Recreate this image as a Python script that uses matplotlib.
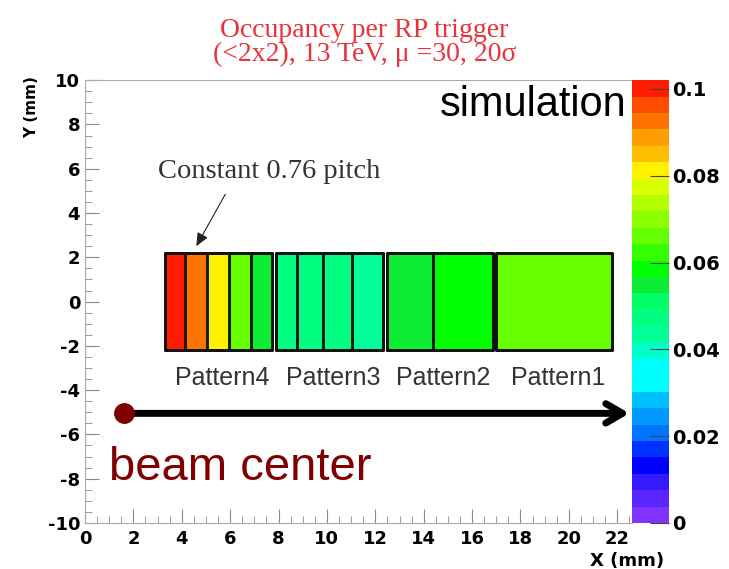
import numpy as np
import matplotlib.pyplot as plt
from matplotlib.colors import ListedColormap, Normalize
from matplotlib.ticker import MultipleLocator

plt.rcParams['axes.unicode_minus'] = False

# strip edges (mm) and occupancy per strip
p4_edges = [3.3, 4.15, 5.05, 5.97, 6.85, 7.73]
p4_vals = [0.099, 0.094, 0.080, 0.066, 0.055]
p3_edges = [7.9, 8.78, 9.85, 11.03, 12.3]
p3_vals = [0.047, 0.049, 0.047, 0.043]
p2_edges = [12.48, 14.4, 16.86]
p2_vals = [0.055, 0.058]
p1_edges = [17.0, 21.8]
p1_vals = [0.067]
names = ["Pattern4", "Pattern3", "Pattern2", "Pattern1"]
y_edges = [-2.2, 2.2]
beam = (1.6, -5.05)

# ROOT-like palette, bottom to top
pal = [(0.5, 0.2, 1), (0.35, 0.15, 1), (0.2, 0.1, 1), (0, 0, 1), (0, 0.2, 1),
       (0, 0.45, 1), (0, 0.6, 1), (0, 0.75, 1), (0, 1, 1), (0, 1, 1),
       (0, 1, 0.8), (0, 1, 0.6), (0, 1, 0.5), (0, 1, 0.4), (0.05, 0.93, 0.2),
       (0, 1, 0), (0.2, 1, 0), (0.4, 1, 0), (0.55, 1, 0), (0.7, 1, 0),
       (0.85, 1, 0), (1, 0.95, 0), (1, 0.75, 0), (1, 0.62, 0), (1, 0.45, 0),
       (1, 0.3, 0), (1, 0.1, 0)]
cmap = ListedColormap(pal)
norm = Normalize(0, 0.102)

fig = plt.figure(figsize=(7.29, 5.69), dpi=100)
ax = fig.add_axes([0.1166, 0.081, 0.75, 0.778])
cax = fig.add_axes([0.867, 0.081, 0.051, 0.778])

pats = [(p4_edges, p4_vals), (p3_edges, p3_vals), (p2_edges, p2_vals), (p1_edges, p1_vals)]
for (ed, vals), nm in zip(pats, names):
    ax.pcolormesh(ed, y_edges, np.array([vals]), cmap=cmap, norm=norm,
                  edgecolor="#1a1a1a", linewidth=1.0)
    ax.add_patch(plt.Rectangle((ed[0], y_edges[0]), ed[-1] - ed[0], y_edges[1] - y_edges[0],
                               fill=False, edgecolor="#111111", linewidth=1.8))
    ax.text((ed[0] + ed[-1]) / 2 + 0.15, -3.45, nm, ha="center", va="center",
            fontsize=18, color="#333333", family="Liberation Sans")

ax.set_xlim(0, 22.6)
ax.set_ylim(-10, 10)
ax.xaxis.set_major_locator(MultipleLocator(2))
ax.xaxis.set_minor_locator(MultipleLocator(0.5))
ax.yaxis.set_major_locator(MultipleLocator(2))
ax.yaxis.set_minor_locator(MultipleLocator(0.5))
ax.tick_params(which="both", direction="in", color="#888888", labelsize=13)
ax.tick_params(which="major", length=10)
ax.tick_params(which="minor", length=5)
ax.tick_params(axis="x", pad=5)
ax.tick_params(top=False, right=False, which="both")
for lab in ax.get_xticklabels() + ax.get_yticklabels():
    lab.set_fontweight("bold")
for s in ax.spines.values():
    s.set_color("#aaaaaa")
ax.spines["right"].set_visible(False)

# beam arrow
ax.annotate("", xy=(22.5, beam[1]), xytext=beam,
            arrowprops=dict(arrowstyle="->,head_length=1.2,head_width=0.7", lw=5,
                            color="black", shrinkA=0, shrinkB=0))
ax.plot(*beam, "o", ms=14, color="#800000", zorder=5)
ax.text(1.0, -7.5, "beam center", fontsize=34, color="#800000", family="Liberation Sans",
        va="center")
ax.text(22.4, 8.9, "simulation", fontsize=30, color="black", family="Liberation Sans",
        ha="right", va="center")

# pitch note
ax.text(7.6, 5.87, "Constant 0.76 pitch", fontsize=20.5, family="Liberation Serif",
        color="#333333", ha="center", va="center")
ax.annotate("", xy=(4.6, 2.5), xytext=(5.8, 4.85),
            arrowprops=dict(arrowstyle="-|>,head_length=0.8,head_width=0.35", lw=0.8,
                            color="#222222", shrinkA=0, shrinkB=0))

# colour bar
cb = fig.colorbar(plt.cm.ScalarMappable(norm=norm, cmap=cmap), cax=cax)
cb.outline.set_visible(False)
cb.set_ticks([0, 0.02, 0.04, 0.06, 0.08, 0.1])
cb.set_ticklabels(["0", "0.02", "0.04", "0.06", "0.08", "0.1"])
cax.tick_params(direction="in", length=14, color="#444444", labelsize=14, pad=2)
for lab in cax.get_yticklabels():
    lab.set_fontweight("bold")

fig.text(0.5, 0.947, "Occupancy per RP trigger", ha="center", va="center",
         fontsize=20, color="#e8323c", family="Liberation Serif")
fig.text(0.5, 0.905, "(<2x2), 13 TeV, \u03bc =30, 20\u03c3", ha="center", va="center",
         fontsize=20, color="#e8323c", family="Liberation Serif")
fig.text(0.043, 0.812, "Y (mm)", rotation=90, ha="center", va="center", fontsize=11,
         fontweight="bold")
fig.text(0.86, 0.014, "X (mm)", ha="center", va="center", fontsize=13,
         fontweight="bold")

fig.savefig("out.png", dpi=100)
